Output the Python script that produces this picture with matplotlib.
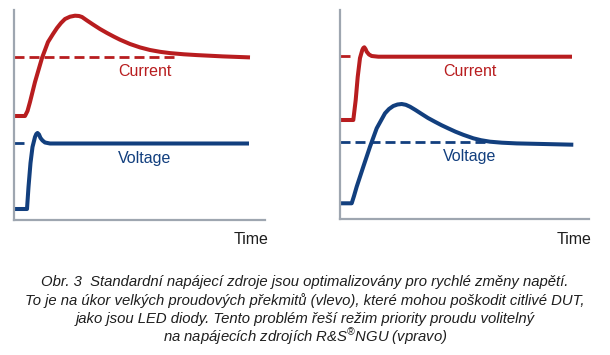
"""Step response sketch: standard supply (left) vs. current-priority mode (right)."""
import matplotlib
matplotlib.use("Agg")
import matplotlib.pyplot as plt

RED = "#b81d1f"
BLUE = "#123f7e"
AXIS = "#9ea6b0"
TEXT = "#1e1e1e"

# left panel: standard supply, current overshoots, voltage settles fast
red_left_t = [0, 11, 13.5, 16, 21, 28, 34, 39, 43, 47, 51, 56, 61, 65, 68, 73, 79, 86, 93, 100, 106,
              116, 126, 136, 146, 156, 170, 183, 209, 236]
red_left_v = [104, 104, 109, 118, 138, 162, 178, 186, 192, 197, 201, 203.3, 204.3, 204, 203, 199.5,
              195.5, 191, 187, 183.3, 180.3, 176, 172.6, 170, 168.2, 166.9, 165.7, 164.9, 163.6, 162.6]
blue_left_t = [0, 13, 14.5, 16.5, 18.5, 21, 22.3, 23.5, 25, 26.5, 28.5, 31, 36, 235]
blue_left_v = [11, 11, 33, 57, 73, 83, 86, 87, 85.5, 82, 79.5, 77.5, 76.5, 76.5]
red_left_set, red_left_set_end = 163.3, 164
blue_left_set, blue_left_set_end = 76.7, 9.5

# right panel: current priority, current settles fast, voltage overshoots
red_right_t = [0, 13.3, 15.7, 17.7, 20, 22.3, 23.3, 24.3, 25.5, 26.7, 29, 31.7, 38.3, 232]
red_right_v = [99, 99, 119, 142, 161, 169, 171, 171.7, 170, 167.3, 164.5, 163, 162.3, 162.3]
blue_right_t = [0, 11.7, 14, 16.7, 23.3, 30, 36.7, 45, 49, 53.3, 57.5, 61.7, 65.8, 70, 75.5, 81.7,
                88, 95, 101.5, 108.3, 115.5, 123.3, 133.3, 141, 150, 162, 176.7, 203.3, 233.3]
blue_right_v = [15.7, 15.7, 23, 32.3, 52.3, 72.3, 90.7, 105.7, 110, 113, 114.5, 115, 114.2, 112.3,
                109, 105, 101, 97.2, 93.8, 90.6, 87.3, 84.2, 80.7, 78.8, 77.3, 76.3, 75.6, 75, 74.3]
red_right_set, red_right_set_end = 163, 10
blue_right_set, blue_right_set_end = 76.7, 145

caption = [
    "Obr. 3  Standardní napájecí zdroje jsou optimalizovány pro rychlé změny napětí.",
    "To je na úkor velkých proudových překmitů (vlevo), které mohou poškodit citlivé DUT,",
    "jako jsou LED diody. Tento problém řeší režim priority proudu volitelný",
    "na napájecích zdrojích R&S$^{\\mathregular{®}}$NGU (vpravo)",
]

plt.rcParams["mathtext.fontset"] = "custom"
plt.rcParams["mathtext.rm"] = "Liberation Sans:italic"
plt.rcParams["mathtext.it"] = "Liberation Sans:italic"

W, H = 610, 355
fig = plt.figure(figsize=(W / 100, H / 100), dpi=100)
LABEL_FONT = "Liberation Sans"


def panel(x0, y0, x1, y1):
    ax = fig.add_axes([x0 / W, 1 - y1 / H, (x1 - x0) / W, (y1 - y0) / H])
    ax.set_xlim(0, x1 - x0)
    ax.set_ylim(0, y1 - y0)
    for s in ("top", "right"):
        ax.spines[s].set_visible(False)
    for s in ("left", "bottom"):
        ax.spines[s].set_color(AXIS)
        ax.spines[s].set_linewidth(1.6)
    ax.set_xticks([])
    ax.set_yticks([])
    ax.patch.set_alpha(0)
    return ax


def draw(ax, rt, rv, bt, bv, rset, rend, bset, bend):
    dash = dict(lw=2.0, dashes=(3.6, 1.8))
    ax.plot([0, rend], [rset, rset], color=RED, **dash)
    ax.plot([0, bend], [bset, bset], color=BLUE, **dash)
    ax.plot(rt, rv, color=RED, lw=2.9, solid_joinstyle="round", solid_capstyle="butt")
    ax.plot(bt, bv, color=BLUE, lw=2.9, solid_joinstyle="round", solid_capstyle="butt")


axl = panel(14, 10, 265, 220)
draw(axl, red_left_t, red_left_v, blue_left_t, blue_left_v,
     red_left_set, red_left_set_end, blue_left_set, blue_left_set_end)
axr = panel(340, 10, 589, 219)
draw(axr, red_right_t, red_right_v, blue_right_t, blue_right_v,
     red_right_set, red_right_set_end, blue_right_set, blue_right_set_end)

lab = dict(ha="center", va="center", fontsize=11.5, family=LABEL_FONT)
axl.text(131, 149, "Current", color=RED, **lab)
axl.text(131, 61, "Voltage", color=BLUE, **lab)
axr.text(130, 148, "Current", color=RED, **lab)
axr.text(130, 62, "Voltage", color=BLUE, **lab)
axl.text(237, -20, "Time", color=TEXT, clip_on=False, **lab)
axr.text(234, -21, "Time", color=TEXT, clip_on=False, **lab)

for i, line in enumerate(caption):
    fig.text(305 / W, 1 - (282 + 18.3 * i) / H, line, ha="center", va="center",
             fontsize=10.7, style="italic", family="Liberation Sans", color=TEXT)

fig.savefig("out.png", dpi=100)
